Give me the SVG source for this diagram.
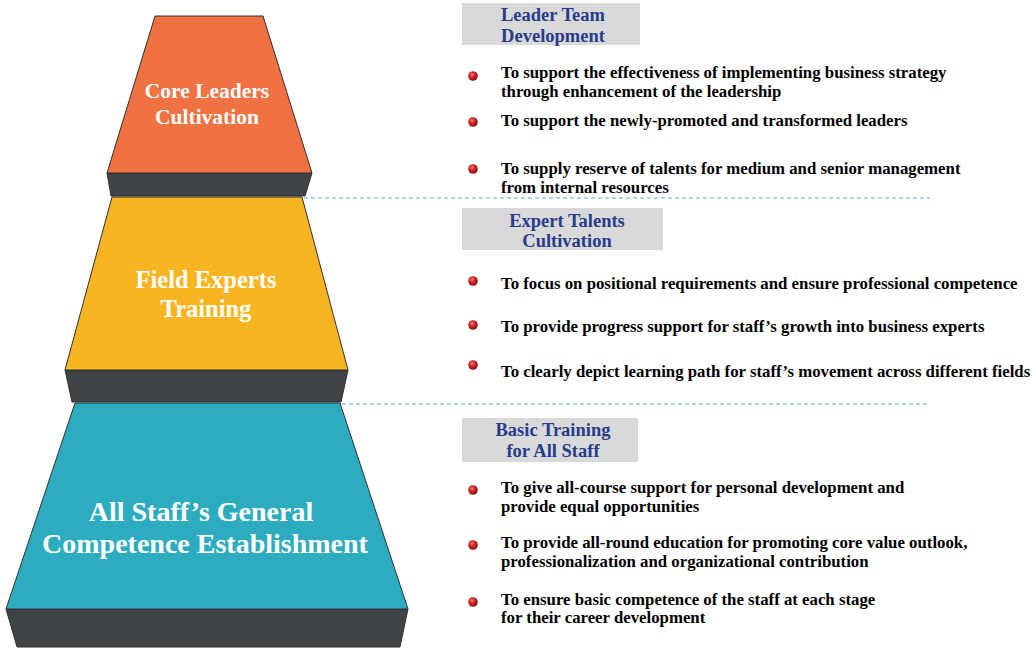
<svg xmlns="http://www.w3.org/2000/svg" width="1033" height="650" viewBox="0 0 1033 650">
  <style>
    .tier { stroke: #2f3133; stroke-width: 1; stroke-linejoin: round; }
    .base { fill: #404346; stroke: #2f3133; stroke-width: 1; }
    .tier-label { font-family: "Liberation Serif", Tinos, "Times New Roman", "DejaVu Serif", serif; font-weight: bold; fill: #ffffff; text-anchor: middle; }
    .head-box { fill: #d9d9d9; }
    .head { font-family: "Liberation Serif", Tinos, "Times New Roman", "DejaVu Serif", serif; font-weight: bold; fill: #283c8c; font-size: 18.5px; text-anchor: middle; }
    .item { font-family: "Liberation Serif", Tinos, "Times New Roman", "DejaVu Serif", serif; font-weight: bold; fill: #000000; font-size: 16.8px; }
    .sep { stroke: #a9d3ee; stroke-width: 2; stroke-dasharray: 4 3; fill: none; }
  </style>
  <defs>
    <radialGradient id="ball" cx="0.4" cy="0.35" r="0.65">
      <stop offset="0" stop-color="#ff9a9a"/>
      <stop offset="0.35" stop-color="#e02a2a"/>
      <stop offset="1" stop-color="#8a1010"/>
    </radialGradient>
    <symbol id="dot" viewBox="-5 -5 10 10" overflow="visible">
      <circle r="4.8" fill="url(#ball)"/>
    </symbol>
  </defs>

  <rect width="1033" height="650" fill="#ffffff"/>

  <!-- dashed separators between the three levels -->
  <g id="connectors">
    <line class="sep" x1="304" y1="198" x2="930" y2="198"/>
    <line class="sep" x1="342" y1="404" x2="930" y2="404"/>
  </g>

  <!-- top tier -->
  <g id="tier-core">
    <polygon class="base" points="107,173 312,173 305,196 111,196"/>
    <polygon class="tier" fill="#f07142" points="155,16 263,16 312,173 107,173"/>
    <text class="tier-label" font-size="21.5" x="207" y="98">Core Leaders</text>
    <text class="tier-label" font-size="21.5" x="207" y="124">Cultivation</text>
  </g>

  <!-- middle tier -->
  <g id="tier-field">
    <polygon class="base" points="65,370 348,370 341,402 72,402"/>
    <polygon class="tier" fill="#f9b521" points="112,197 302,197 348,370 65,370"/>
    <text class="tier-label" font-size="24.5" x="206" y="288">Field Experts</text>
    <text class="tier-label" font-size="24.5" x="206" y="317">Training</text>
  </g>

  <!-- bottom tier -->
  <g id="tier-all">
    <polygon class="base" points="6,609 408,609 400,647 17,647"/>
    <polygon class="tier" fill="#2eacbf" points="75,403 340,403 408,609 6,609"/>
    <text class="tier-label" font-size="28" x="201" y="521">All Staff’s General</text>
    <text class="tier-label" font-size="28" x="205" y="553">Competence Establishment</text>
  </g>

  <!-- leader team development -->
  <g id="leader-team">
    <rect class="head-box" x="462" y="3" width="178" height="42"/>
    <text class="head" x="553" y="21">Leader Team</text>
    <text class="head" x="553" y="42">Development</text>
    <use href="#dot" x="468" y="71" width="10" height="10"/>
    <text class="item" x="501" y="78">To support the effectiveness of implementing business strategy</text>
    <text class="item" x="501" y="97">through enhancement of the leadership</text>
    <use href="#dot" x="468" y="117" width="10" height="10"/>
    <text class="item" x="501" y="126">To support the newly-promoted and transformed leaders</text>
    <use href="#dot" x="468" y="164" width="10" height="10"/>
    <text class="item" x="501" y="174">To supply reserve of talents for medium and senior management</text>
    <text class="item" x="501" y="193">from internal resources</text>
  </g>

  <!-- expert talents cultivation -->
  <g id="expert-talents">
    <rect class="head-box" x="462" y="208" width="201" height="42"/>
    <text class="head" x="567" y="227">Expert Talents</text>
    <text class="head" x="567" y="247">Cultivation</text>
    <use href="#dot" x="468" y="276" width="10" height="10"/>
    <text class="item" x="501" y="289">To focus on positional requirements and ensure professional competence</text>
    <use href="#dot" x="468" y="320" width="10" height="10"/>
    <text class="item" x="501" y="332">To provide progress support for staff’s growth into business experts</text>
    <use href="#dot" x="468" y="360" width="10" height="10"/>
    <text class="item" x="501" y="377">To clearly depict learning path for staff’s movement across different fields</text>
  </g>

  <!-- basic training for all staff -->
  <g id="basic-training">
    <rect class="head-box" x="462" y="418" width="176" height="44"/>
    <text class="head" x="553" y="436">Basic Training</text>
    <text class="head" x="553" y="457">for All Staff</text>
    <use href="#dot" x="468" y="485" width="10" height="10"/>
    <text class="item" x="501" y="493">To give all-course support for personal development and</text>
    <text class="item" x="501" y="512">provide equal opportunities</text>
    <use href="#dot" x="468" y="540" width="10" height="10"/>
    <text class="item" x="501" y="548">To provide all-round education for promoting core value outlook,</text>
    <text class="item" x="501" y="567">professionalization and organizational contribution</text>
    <use href="#dot" x="468" y="597" width="10" height="10"/>
    <text class="item" x="501" y="605">To ensure basic competence of the staff at each stage</text>
    <text class="item" x="501" y="623">for their career development</text>
  </g>
</svg>
